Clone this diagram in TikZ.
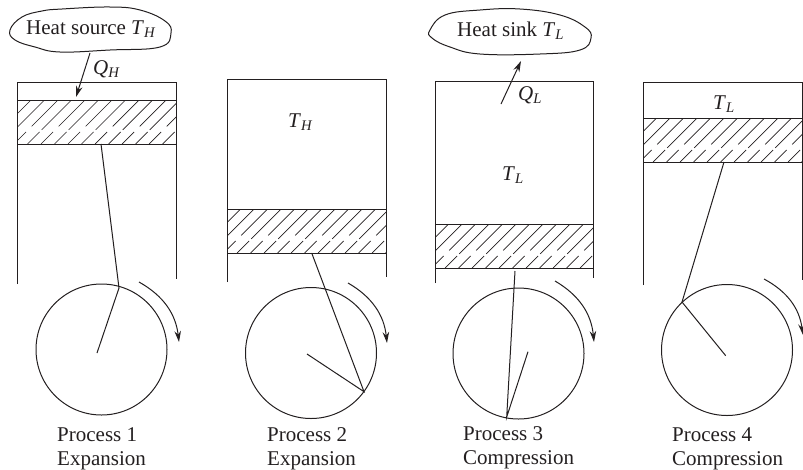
\documentclass[tikz,border=0pt]{standalone}
\usepackage{fontspec}
\setmainfont{Liberation Serif}
\usetikzlibrary{arrows.meta, positioning}
\definecolor{inkdark}{HTML}{231F20}
\newcommand{\tsub}[2]{\textit{#1}\textsubscript{\textit{#2}}}

\begin{document}
\begin{tikzpicture}[
  x=1pt, y=-1pt,
  >={Stealth[length=11pt, width=6.5pt]},
  every node/.style={font=\fontsize{21}{24}\selectfont, text=inkdark, inner sep=0pt},
  wall/.style={draw=inkdark, line width=1pt},
  blob/.style={draw=inkdark, line width=1pt, smooth cycle, tension=0.7},
  hatch/.style={draw=inkdark, line width=0.7pt},
  link/.style={draw=inkdark, line width=1pt},
  wheel/.style={circle, draw=inkdark, line width=1pt, minimum size=131pt},
  spin/.style={->, draw=inkdark, line width=1pt, bend left=27},
  heatarr/.style={->, draw=inkdark, line width=1pt},
  tlabel/.style={anchor=base west},
  caption/.style={anchor=base west, align=left},
]
\useasboundingbox (0,0) rectangle (803,469);

% === CYLINDERS, PISTONS, WHEELS ===
\foreach \n/\xl/\xr/\ytop/\ybl/\ybr/\ypt/\ypb/\cx/\cy/\sax/\say/\sbx/\sby in {
  1/17.5/176/82/284/279/100/144/101.5/349.5/139/282/179/342,
  2/227/386/79/282/277/209.5/253/311/353/348/283/387/343,
  3/435/593/81/283/278/224/268/518.5/353.5/555/281/594/342,
  4/643/802/82.5/285/280/118/162/727/350/764/279/803/335} {
  \draw[wall] (\xl,\ybl) -- (\xl,\ytop) -- (\xr,\ytop) -- (\xr,\ybr);
  \draw[wall] (\xl,\ypt) rectangle (\xr,\ypb);
  % hatching, broken in two staggered families
  \begin{scope}
    \clip (\xl,\ypt) rectangle (\xr,\ypb);
    \foreach \hgap/\hoff in {3pt/0, 8pt/13.5} {
      \foreach \hn in {0,...,7} {
        \draw[hatch, dash pattern=on 17pt off \hgap on 80pt]
          (\xl-44+\hoff+27*\hn,\ypb) -- ++(44,-44);
      }
    }
  \end{scope}
  \node[wheel] (wheel\n) at (\cx,\cy) {};
  \coordinate (spinstart\n) at (\sax,\say);
  \coordinate (spinend\n) at (\sbx,\sby);
  \draw[spin] (spinstart\n) to (spinend\n);
}

% === RODS AND CRANKS ===
\foreach \n/\rx/\ry/\px/\py/\hx/\hy in {
  1/101/144/119/288/97/353,
  2/311.7/253/364/391.7/307/354,
  3/515/271/506.7/417/528/351.7,
  4/724/162/682/302/725.7/355.7} {
  \coordinate (rod\n) at (\rx,\ry);
  \coordinate (pin\n) at (\px,\py);
  \coordinate (hub\n) at (\hx,\hy);
  \draw[link] (rod\n) -- (pin\n) -- (hub\n);
}

% === HEAT SOURCE ===
\draw[blob] plot coordinates {(10,30) (22,17) (42,11) (62,9) (110,7) (140,10) (165,21) (171,33) (160,47) (110,50) (60,52) (35,47) (15,40)};
\node[tlabel] (source) at (26,34) {Heat source \tsub{T}{H}};
\coordinate (qhtail) at (90,53);
\coordinate (qhtip) at (76,97);
\draw[heatarr] (qhtail) -- (qhtip);
\node[tlabel] (qh) at (93,74) {\tsub{Q}{H}};

% === HEAT SINK ===
\draw[blob] plot coordinates {(430,30) (445,15) (480,10) (520,9) (560,15) (585,27) (591,38) (580,50) (540,54) (480,54) (450,47) (432,38)};
\node[tlabel] (sink) at (457,36) {Heat sink \tsub{T}{L}};
\coordinate (qltail) at (501,104);
\coordinate (qltip) at (521,61);
\draw[heatarr] (qltail) -- (qltip);
\node[tlabel] (ql) at (518,100) {\tsub{Q}{L}};

% === GAS TEMPERATURES ===
\node[tlabel] (temp2) at (288,127) {\tsub{T}{H}};
\node[tlabel] (temp3) at (502,180) {\tsub{T}{L}};
\node[tlabel] (temp4) at (713,109) {\tsub{T}{L}};

% === CAPTIONS ===
\node[caption] (proc1) at (57,465) {Process 1\\Expansion};
\node[caption] (proc2) at (267,465) {Process 2\\Expansion};
\node[caption] (proc3) at (463,464) {Process 3\\Compression};
\node[caption] (proc4) at (672,465) {Process 4\\Compression};

\end{tikzpicture}
\end{document}
